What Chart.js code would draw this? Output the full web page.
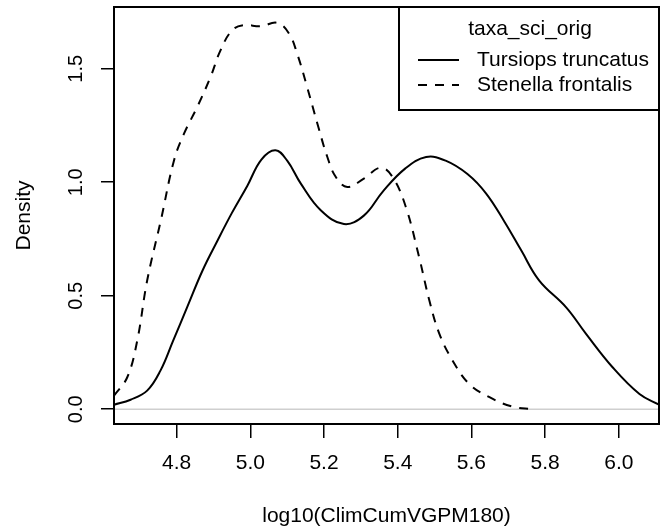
<!DOCTYPE html>
<html>
<head>
<meta charset="utf-8">
<script src="https://cdn.jsdelivr.net/npm/chart.js@4/dist/chart.umd.min.js"></script>
<style>
  html, body { margin: 0; padding: 0; background: #fff; }
  canvas { display: block; }
</style>
</head>
<body>
<canvas id="chart" width="663" height="529"></canvas>
<script>
// density curves
const tursiopsX = [4.630, 4.675, 4.720, 4.756, 4.790, 4.830, 4.870, 4.910, 4.950, 4.992, 5.030, 5.068, 5.100, 5.137, 5.191, 5.254, 5.308, 5.360, 5.420, 5.477, 5.530, 5.590, 5.640, 5.690, 5.735, 5.784, 5.857, 5.911, 5.983, 6.056, 6.109];
const tursiopsY = [0.020, 0.042, 0.082, 0.170, 0.300, 0.455, 0.610, 0.740, 0.865, 0.985, 1.100, 1.141, 1.095, 0.994, 0.877, 0.816, 0.853, 0.960, 1.060, 1.111, 1.095, 1.035, 0.950, 0.825, 0.700, 0.567, 0.449, 0.332, 0.185, 0.067, 0.020];

const stenellaX = [4.630, 4.666, 4.693, 4.720, 4.757, 4.793, 4.820, 4.856, 4.892, 4.919, 4.951, 4.983, 5.028, 5.073, 5.105, 5.127, 5.154, 5.182, 5.209, 5.232, 5.263, 5.308, 5.354, 5.386, 5.422, 5.458, 5.486, 5.513, 5.549, 5.594, 5.649, 5.712, 5.766];
const stenellaY = [0.060, 0.141, 0.302, 0.567, 0.831, 1.097, 1.214, 1.332, 1.464, 1.581, 1.670, 1.692, 1.687, 1.702, 1.655, 1.567, 1.420, 1.258, 1.111, 1.023, 0.979, 1.016, 1.064, 1.023, 0.891, 0.670, 0.478, 0.332, 0.214, 0.111, 0.053, 0.011, 0.000];

const seriesNames = ["Tursiops truncatus", "Stenella frontalis"];
const legendTitle = "taxa_sci_orig";
const xTicks = [4.8, 5.0, 5.2, 5.4, 5.6, 5.8, 6.0];
const yTicks = [0.0, 0.5, 1.0, 1.5];

const FONT = "'Liberation Sans', Arial, Helvetica, sans-serif";

const zip = (xs, ys) => xs.map((x, i) => ({x: x, y: ys[i]}));

// grey zero line, box, rotated y labels and the R style legend
const rStyle = {
  id: "rStyle",
  beforeDatasetsDraw(chart) {
    const {ctx, chartArea, scales} = chart;
    const y0 = scales.y.getPixelForValue(0);
    ctx.save();
    ctx.strokeStyle = "#cfcfcf";
    ctx.lineWidth = 1.5;
    ctx.beginPath();
    ctx.moveTo(chartArea.left, y0);
    ctx.lineTo(chartArea.right, y0);
    ctx.stroke();
    ctx.restore();
  },
  afterDraw(chart) {
    const {ctx, chartArea, scales} = chart;
    const a = chartArea;
    ctx.save();
    ctx.strokeStyle = "#000";
    ctx.lineWidth = 2;
    ctx.strokeRect(a.left, a.top, a.right - a.left, a.bottom - a.top);

    // y tick labels, reading upwards like R
    ctx.fillStyle = "#000";
    ctx.font = "20px " + FONT;
    ctx.textAlign = "center";
    ctx.textBaseline = "middle";
    yTicks.forEach(v => {
      const py = scales.y.getPixelForValue(v);
      ctx.save();
      ctx.translate(76, py);
      ctx.rotate(-Math.PI / 2);
      ctx.fillText(v.toFixed(1), 0, 0);
      ctx.restore();
    });

    // legend in the top right corner
    const lx = 399, ly = a.top, lw = a.right - 399, lh = 103;
    ctx.fillStyle = "#fff";
    ctx.fillRect(lx, ly, lw, lh);
    ctx.strokeRect(lx, ly, lw, lh);
    ctx.fillStyle = "#000";
    ctx.font = "21px " + FONT;
    ctx.textAlign = "center";
    ctx.fillText(legendTitle, 530, ly + 22);
    ctx.textAlign = "left";
    chart.data.datasets.forEach((ds, i) => {
      const ry = ly + 53 + i * 25;
      ctx.save();
      ctx.lineWidth = ds.borderWidth;
      ctx.setLineDash(ds.borderDash || []);
      ctx.beginPath();
      ctx.moveTo(418, ry);
      ctx.lineTo(459, ry);
      ctx.stroke();
      ctx.restore();
      ctx.fillText(ds.label, 477, ry);
    });
    ctx.restore();
  }
};

new Chart(document.getElementById("chart"), {
  type: "line",
  data: {
    datasets: [
      {
        label: seriesNames[0],
        data: zip(tursiopsX, tursiopsY),
        borderColor: "#000",
        borderWidth: 2,
        pointRadius: 0,
        tension: 0.4,
        fill: false,
      },
      {
        label: seriesNames[1],
        data: zip(stenellaX, stenellaY),
        borderColor: "#000",
        borderWidth: 2,
        borderDash: [9, 8],
        pointRadius: 0,
        tension: 0.4,
        fill: false,
      },
    ],
  },
  options: {
    responsive: false,
    animation: false,
    layout: {padding: {top: 7, right: 4, left: 0, bottom: 0}},
    plugins: {
      legend: {display: false},
      tooltip: {enabled: false},
    },
    scales: {
      x: {
        type: "linear",
        min: 4.63,
        max: 6.109,
        afterBuildTicks: s => { s.ticks = xTicks.map(v => ({value: v})); },
        afterFit: s => { s.height = 105; },
        border: {display: false},
        grid: {drawOnChartArea: false, drawTicks: true, tickLength: 14, color: "#000", lineWidth: 1.5},
        ticks: {
          color: "#000",
          font: {family: FONT, size: 21},
          padding: 13,
          maxRotation: 0,
          autoSkip: false,
          callback: v => v.toFixed(1),
        },
        title: {
          display: true,
          text: "log10(ClimCumVGPM180)",
          color: "#000",
          font: {family: FONT, size: 21},
          padding: {top: 0, bottom: 0},
        },
      },
      y: {
        min: -0.065,
        max: 1.772,
        afterBuildTicks: s => { s.ticks = yTicks.map(v => ({value: v})); },
        afterFit: s => { s.width = 114; },
        border: {display: false},
        grid: {drawOnChartArea: false, drawTicks: true, tickLength: 13, color: "#000", lineWidth: 1.5},
        ticks: {display: false},
        title: {
          display: true,
          text: "Density",
          color: "#000",
          font: {family: FONT, size: 21},
          padding: {top: 12, bottom: 0},
        },
      },
    },
  },
  plugins: [rStyle],
});
</script>
</body>
</html>
